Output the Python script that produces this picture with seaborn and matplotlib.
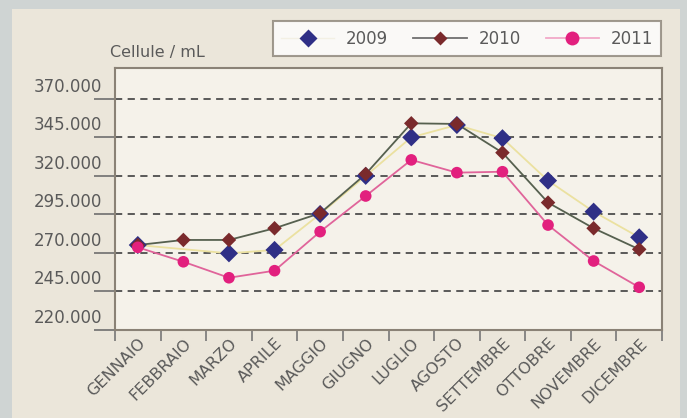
import numpy as np
import pandas as pd
import seaborn as sns
import matplotlib
matplotlib.use("Agg")
import matplotlib.pyplot as plt
import matplotlib.transforms as mtransforms
from matplotlib.lines import Line2D
from matplotlib.patches import Rectangle

# data (cells / mL)
months = ["GENNAIO", "FEBBRAIO", "MARZO", "APRILE", "MAGGIO", "GIUGNO",
          "LUGLIO", "AGOSTO", "SETTEMBRE", "OTTOBRE", "NOVEMBRE", "DICEMBRE"]
years = ["2009", "2010", "2011"]
v2009 = [275000, np.nan, 269600, 271800, 295200, 320000,
         345100, 353100, 344500, 316900, 296700, 280000]
v2010 = [275000, 278300, 278300, 285900, 295700, 321200,
         354200, 353800, 335100, 302600, 285900, 272200]
v2011 = [273500, 264100, 253700, 258300, 283700, 306900,
         330400, 322100, 322700, 288000, 264600, 247500]
yticks = [220000, 245000, 270000, 295000, 320000, 345000, 370000]

line_cols = {"2009": "#ebe1a0", "2010": "#56604f", "2011": "#e0649a"}
mark_cols = {"2009": "#2f2f86", "2010": "#7a2a2c", "2011": "#e2207e"}
mark_shp = {"2009": "D", "2010": "D", "2011": "o"}
mark_size = {"2009": 85, "2010": 55, "2011": 70}

df = pd.DataFrame({
    "mese": months * 3,
    "anno": np.repeat(years, len(months)),
    "cellule": v2009 + v2010 + v2011,
})
df["pos"] = np.tile(np.arange(len(months)), 3)

fig = plt.figure(figsize=(6.87, 4.18), dpi=100)
fig.patch.set_facecolor("#cfd4d3")
fig.patches.append(Rectangle((12 / 687, 0), 668 / 687, 1 - 9 / 418,
                             transform=fig.transFigure, facecolor="#ebe6da",
                             edgecolor="none", zorder=-10))

ax = fig.add_axes([115 / 687, 1 - 330 / 418, 547 / 687, 262 / 418])
ax.set_facecolor("#f5f2ea")

# lines first, then the markers on top
sns.lineplot(data=df, x="pos", y="cellule", hue="anno", palette=line_cols,
             linewidth=1.3, legend=False, ax=ax, zorder=3)
for yr in years:
    sub = df[df["anno"] == yr]
    sns.scatterplot(data=sub, x="pos", y="cellule", color=mark_cols[yr],
                    marker=mark_shp[yr], s=mark_size[yr], edgecolor="none",
                    legend=False, ax=ax, zorder=4)

ax.set_xlim(-0.5, len(months) - 0.5)
ax.set_ylim(219700, 390200)
ax.set_xlabel("")
ax.set_ylabel("")

# x: tick marks on the boundaries, labels in the middle
ax.set_xticks(np.arange(len(months) + 1) - 0.5)
ax.set_xticklabels([])
ax.set_xticks(np.arange(len(months)), minor=True)
ax.set_xticklabels(months, minor=True, rotation=45, ha="right",
                   rotation_mode="anchor", fontsize=11.5, color="#5a5a5a")
ax.tick_params(axis="x", which="major", length=8, width=1.2, color="#777777",
               direction="out")
ax.tick_params(axis="x", which="minor", length=0, pad=4)

ax.set_yticks(yticks)
ax.set_yticklabels([f"{v:,.0f}".replace(",", ".") for v in yticks],
                   fontsize=12, color="#5a5a5a")
ax.tick_params(axis="y", length=15, width=1.2, color="#6f6f6f", pad=-5.5)
shift = mtransforms.ScaledTranslation(0, 14 / 100, fig.dpi_scale_trans)
for lab in ax.get_yticklabels():
    lab.set_transform(lab.get_transform() + shift)

ax.yaxis.grid(True, linestyle=(0, (4, 3)), color="#4d4d4d", linewidth=1.3)
ax.xaxis.grid(False)
ax.set_axisbelow(True)
for sp in ax.spines.values():
    sp.set_color("#8a8276")
    sp.set_linewidth(1.5)

fig.text(110 / 687, 1 - 53 / 418, "Cellule / mL", fontsize=11.5, color="#5a5a5a",
         va="center", ha="left")

handles = [
    Line2D([], [], color="#f3f0e4", lw=1, marker="D",
           markerfacecolor=mark_cols["2009"], markeredgecolor="none", markersize=9),
    Line2D([], [], color="#6f6f6f", lw=1.3, marker="D",
           markerfacecolor=mark_cols["2010"], markeredgecolor="none", markersize=7),
    Line2D([], [], color="#f2a9c8", lw=1.3, marker="o",
           markerfacecolor=mark_cols["2011"], markeredgecolor="none", markersize=10),
]
leg = fig.legend(handles, years, loc="center", ncol=3,
                 bbox_to_anchor=(467 / 687, 1 - 38.5 / 418),
                 frameon=True, fancybox=False, fontsize=12,
                 handlelength=3.2, columnspacing=1.5, handletextpad=0.7,
                 borderpad=0.5, borderaxespad=0, labelcolor="#5a5a5a")
leg.get_frame().set_edgecolor("#8a8276")
leg.get_frame().set_linewidth(1.5)
leg.get_frame().set_facecolor("#ffffff")

fig.savefig("out.png", dpi=100, facecolor=fig.get_facecolor())
